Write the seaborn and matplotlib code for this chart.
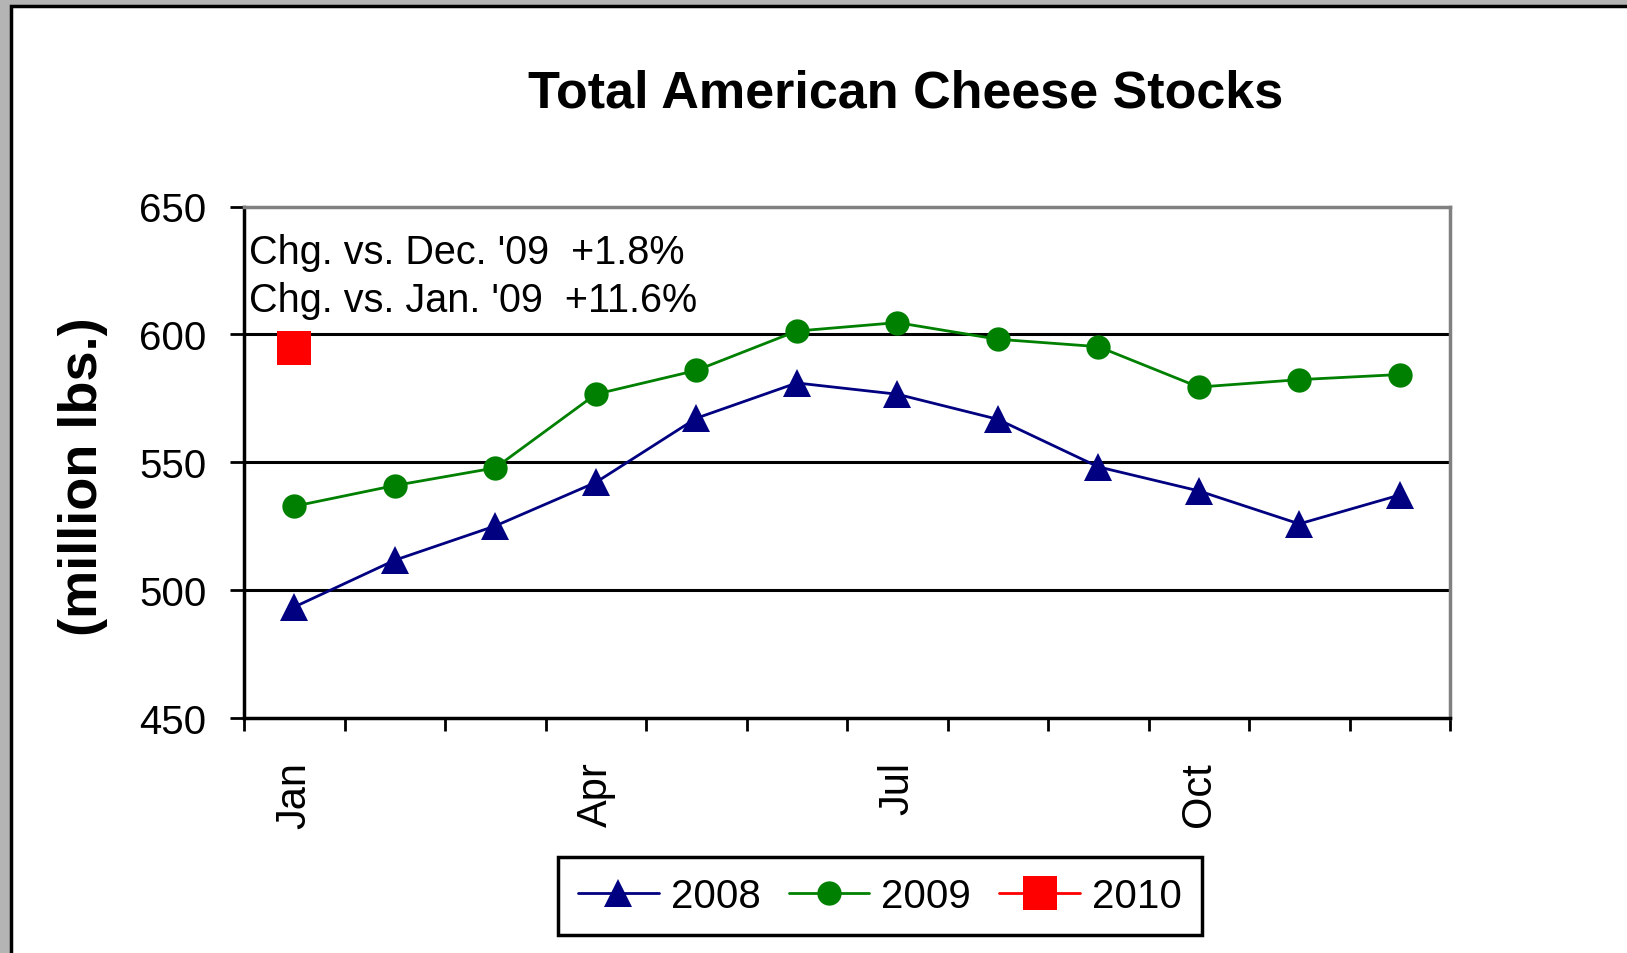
import matplotlib
matplotlib.use("Agg")
import matplotlib.pyplot as plt
import seaborn as sns
import pandas as pd
from matplotlib.patches import Rectangle
from matplotlib.lines import Line2D

months = ["Jan", "Feb", "Mar", "Apr", "May", "Jun", "Jul", "Aug", "Sep", "Oct", "Nov", "Dec"]
stocks_2008 = [493.4, 511.7, 525.1, 542.1, 567.2, 581.0, 576.6, 566.8, 548.2, 538.8, 525.9, 537.2]
stocks_2009 = [532.8, 540.9, 547.8, 576.6, 585.9, 601.3, 604.6, 598.1, 595.2, 579.4, 582.3, 584.3]
stocks_2010 = [594.6]
tick_months = ["Jan", "Apr", "Jul", "Oct"]
y_ticks = [450, 500, 550, 600, 650]
note_lines = ["Chg. vs. Dec. '09  +1.8%", "Chg. vs. Jan. '09  +11.6%"]

sns.set_theme(style="white")
plt.rcParams["font.family"] = ["Liberation Sans", "DejaVu Sans"]
plt.rcParams["text.color"] = "black"
plt.rcParams["xtick.color"] = "black"
plt.rcParams["ytick.color"] = "black"

fig = plt.figure(figsize=(16.27, 9.54), dpi=100)
fig.patch.set_facecolor("#b4b4b4")
panel = Rectangle((11 / 1627, -0.2), 1.2, 1.2 - 7 / 954, transform=fig.transFigure,
                  facecolor="white", edgecolor="black", linewidth=2.5, zorder=-10)
fig.add_artist(panel)

ax = fig.add_axes([244 / 1627, 1 - 719 / 954, (1450 - 244) / 1627, (719 - 207.5) / 954])
ax.set_facecolor("white")
ax.set_zorder(1)

df = pd.concat([
    pd.DataFrame({"pos": range(len(stocks_2008)), "value": stocks_2008, "year": "2008"}),
    pd.DataFrame({"pos": range(len(stocks_2009)), "value": stocks_2009, "year": "2009"}),
    pd.DataFrame({"pos": range(len(stocks_2010)), "value": stocks_2010, "year": "2010"}),
])

styles = {
    "2008": dict(color="#000080", marker="^", ms=19.5),
    "2009": dict(color="#008000", marker="o", ms=17.5),
    "2010": dict(color="#ff0000", marker="s", ms=24),
}
for yr, st in styles.items():
    sub = df[df["year"] == yr]
    sns.lineplot(data=sub, x="pos", y="value", ax=ax, color=st["color"], marker=st["marker"],
                 markersize=st["ms"], markeredgewidth=0, linewidth=2, legend=False, zorder=5)

ax.set_xlim(-0.5, 11.5)
ax.set_ylim(450, 650)
ax.set_yticks(y_ticks)
ax.set_yticklabels([str(v) for v in y_ticks], fontsize=29)
ax.set_xticks([months.index(m) for m in tick_months])
ax.set_xticklabels(tick_months, rotation=90, fontsize=30, va="top")
ax.set_xticks([i - 0.5 for i in range(len(months) + 1)], minor=True)
ax.tick_params(axis="x", which="major", length=0, pad=31)
ax.tick_params(axis="x", which="minor", length=9.5, width=2, color="black", direction="out", bottom=True)
ax.tick_params(axis="y", which="major", length=10, width=2, color="black", direction="out", left=True, pad=17)
ax.set_xlabel("")
ax.set_ylabel("")

for v in [500, 550, 600]:
    ax.axhline(v, color="black", linewidth=2.2, zorder=1)

for side in ["left", "bottom"]:
    ax.spines[side].set_color("black")
    ax.spines[side].set_linewidth(2.5)
for side in ["top", "right"]:
    ax.spines[side].set_color("#808080")
    ax.spines[side].set_linewidth(2.5)

tr = ax.get_yaxis_transform()
ax.text(0.004, 627.9, note_lines[0], transform=tr, fontsize=28.5, va="baseline", ha="left")
ax.text(0.004, 609.1, note_lines[1], transform=tr, fontsize=28.5, va="baseline", ha="left")

fig.text(906 / 1627, 1 - 108 / 954, "Total American Cheese Stocks", fontsize=37.5,
         fontweight="bold", ha="center", va="baseline")
fig.text(83 / 1627, 1 - 477 / 954, "(million lbs.)", fontsize=39, fontweight="bold",
         rotation=90, ha="center", va="center")

handles = [Line2D([], [], color=st["color"], marker=st["marker"], markersize=st["ms"],
                  markeredgewidth=0, linewidth=2) for st in styles.values()]
leg = fig.legend(handles, list(styles.keys()), loc="center", bbox_to_anchor=(880 / 1627, 1 - 897 / 954),
                 ncol=3, fontsize=29, frameon=True, fancybox=False, framealpha=1,
                 edgecolor="black", handlelength=2.0, columnspacing=0.7, handletextpad=0.3,
                 borderpad=0.5, borderaxespad=0)
leg.get_frame().set_linewidth(2.5)

fig.savefig("out.png", dpi=100, facecolor=fig.get_facecolor())
